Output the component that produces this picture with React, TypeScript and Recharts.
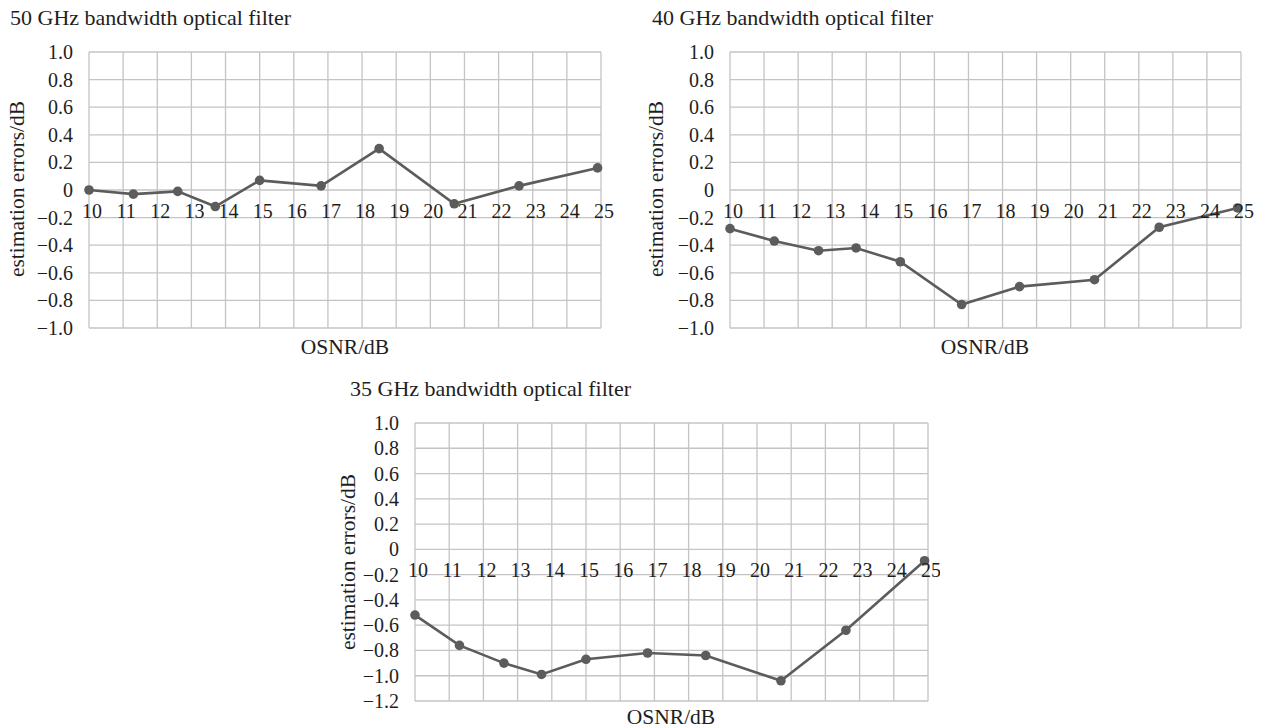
import React from "react";
import { LineChart, Line, XAxis, YAxis, CartesianGrid } from "recharts";

const FONT = "'Liberation Serif', 'Times New Roman', serif";

// OSNR values (dB) at which estimation errors were measured
const osnr = [10, 11.3, 12.6, 13.7, 15, 16.8, 18.5, 20.7, 22.6, 24.9];
const err50 = [0, -0.03, -0.01, -0.12, 0.07, 0.03, 0.3, -0.1, 0.03, 0.16];
const err40 = [-0.28, -0.37, -0.44, -0.42, -0.52, -0.83, -0.7, -0.65, -0.27, -0.13];
const err35 = [-0.52, -0.76, -0.9, -0.99, -0.87, -0.82, -0.84, -1.04, -0.64, -0.09];

const xTicks = [10, 11, 12, 13, 14, 15, 16, 17, 18, 19, 20, 21, 22, 23, 24, 25];
const yTicksTop = [1, 0.8, 0.6, 0.4, 0.2, 0, -0.2, -0.4, -0.6, -0.8, -1];
const yTicksBottom = [1, 0.8, 0.6, 0.4, 0.2, 0, -0.2, -0.4, -0.6, -0.8, -1, -1.2];

const titles = [
  "50 GHz bandwidth optical filter",
  "40 GHz bandwidth optical filter",
  "35 GHz bandwidth optical filter",
];
const yTitle = "estimation errors/dB";
const xTitle = "OSNR/dB";

const LINE = "#5c5c5c";
const GRID = "#c4c4c4";
const TEXT = "#1e1e1e";

function fmt(v: number): string {
  if (Math.abs(v) < 1e-9) return "0";
  const s = Math.abs(v).toFixed(1);
  return v < 0 ? "\u2212" + s : s;
}

type PanelProps = {
  left: number;
  top: number;
  width: number;
  height: number;
  margin: { top: number; left: number; right: number; bottom: number };
  values: number[];
  yTicks: number[];
};

function Panel({ left, top, width, height, margin, values, yTicks }: PanelProps) {
  const data = osnr.map((x, i) => ({ x, y: values[i] }));
  const yMax = Math.max(...yTicks);
  const yMin = Math.min(...yTicks);
  const xAxisH = 20;
  const plotH = height - margin.top - margin.bottom - xAxisH;
  const zeroY = margin.top + (plotH * yMax) / (yMax - yMin);
  const XTick = (props: any) => {
    const { x, payload } = props;
    return (
      <text
        x={x + 3}
        y={zeroY + 28}
        textAnchor="middle"
        style={{ fontSize: 20, fontFamily: FONT, fill: TEXT }}
      >
        {payload.value}
      </text>
    );
  };
  const YTick = (props: any) => {
    const { x, y, payload } = props;
    return (
      <text
        x={x}
        y={y}
        dy="0.35em"
        textAnchor="end"
        style={{ fontSize: 20, fontFamily: FONT, fill: TEXT }}
      >
        {fmt(payload.value)}
      </text>
    );
  };
  return (
    <div style={{ position: "absolute", left, top, width, height }}>
      <LineChart width={width} height={height} data={data} margin={margin}>
        <CartesianGrid stroke={GRID} strokeWidth={1.3} />
        <XAxis
          type="number"
          dataKey="x"
          domain={[10, 25]}
          ticks={xTicks}
          interval={0}
          height={xAxisH}
          axisLine={false}
          tickLine={false}
          tick={XTick}
        />
        <YAxis
          type="number"
          domain={[yMin, yMax]}
          ticks={yTicks}
          interval={0}
          width={60}
          axisLine={false}
          tickLine={false}
          tickSize={0}
          tickMargin={16}
          tick={YTick}
        />
        <Line
          dataKey="y"
          stroke={LINE}
          strokeWidth={2.6}
          dot={{ r: 4.8, fill: LINE, stroke: LINE, strokeWidth: 0 }}
          activeDot={false}
          isAnimationActive={false}
        />
      </LineChart>
    </div>
  );
}

const titleStyle = { fontSize: 22, fontFamily: FONT, fill: TEXT };
const labelStyle = { fontSize: 21.5, fontFamily: FONT, fill: TEXT };

export default function App() {
  return (
    <div
      style={{
        position: "absolute",
        left: 0,
        top: 0,
        width: 1263,
        height: 728,
        background: "#ffffff",
        overflow: "hidden",
        fontFamily: FONT,
      }}
    >
      <Panel
        left={0}
        top={0}
        width={620}
        height={360}
        margin={{ top: 52, left: 29, right: 19, bottom: 12 }}
        values={err50}
        yTicks={yTicksTop}
      />
      <Panel
        left={640}
        top={0}
        width={620}
        height={360}
        margin={{ top: 52, left: 30, right: 19, bottom: 12 }}
        values={err40}
        yTicks={yTicksTop}
      />
      <Panel
        left={320}
        top={370}
        width={620}
        height={358}
        margin={{ top: 53, left: 35, right: 12, bottom: 7 }}
        values={err35}
        yTicks={yTicksBottom}
      />
      <svg
        width={1263}
        height={728}
        style={{ position: "absolute", left: 0, top: 0, pointerEvents: "none" }}
      >
        <text x={10} y={25} style={titleStyle}>{titles[0]}</text>
        <text x={652} y={25} style={titleStyle}>{titles[1]}</text>
        <text x={350} y={396} style={titleStyle}>{titles[2]}</text>

        <text x={345} y={354} textAnchor="middle" style={labelStyle}>{xTitle}</text>
        <text x={985} y={354} textAnchor="middle" style={labelStyle}>{xTitle}</text>
        <text x={671} y={724} textAnchor="middle" style={labelStyle}>{xTitle}</text>

        <text transform="translate(24,189) rotate(-90)" textAnchor="middle" style={labelStyle}>{yTitle}</text>
        <text transform="translate(663,189) rotate(-90)" textAnchor="middle" style={labelStyle}>{yTitle}</text>
        <text transform="translate(355,562) rotate(-90)" textAnchor="middle" style={labelStyle}>{yTitle}</text>
      </svg>
    </div>
  );
}
